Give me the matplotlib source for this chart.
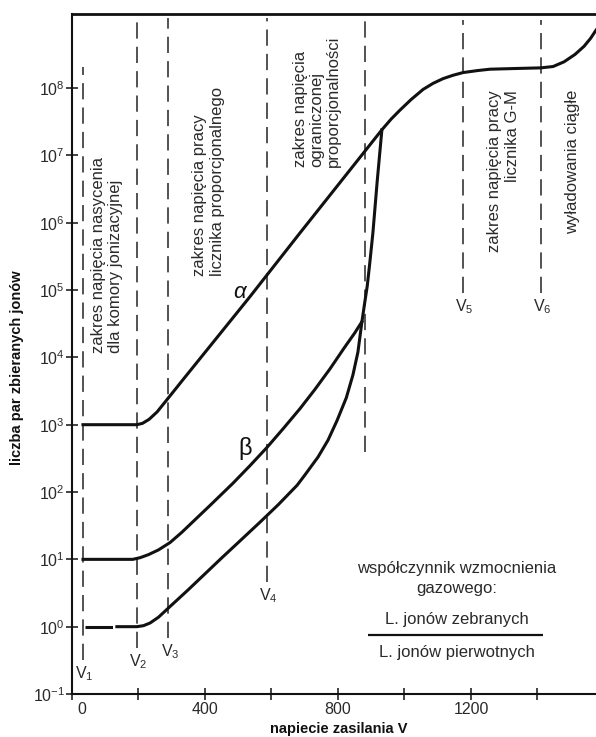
import matplotlib
matplotlib.use('Agg')
import matplotlib.pyplot as plt
from matplotlib.transforms import ScaledTranslation

plt.rcParams['font.family'] = ['Liberation Sans', 'DejaVu Sans']
plt.rcParams['mathtext.fontset'] = 'custom'
plt.rcParams['mathtext.rm'] = 'Liberation Sans'
plt.rcParams['mathtext.it'] = 'Liberation Sans:italic'
plt.rcParams['mathtext.bf'] = 'Liberation Sans:bold'

# napiecie [V] i log10(liczba par jonow)
alpha_v = [33, 195, 212, 232, 256, 300, 334, 535, 686, 932, 960, 986, 1020, 1056,
           1086, 1116, 1146, 1176, 1220, 1257, 1330, 1410, 1447, 1480, 1513, 1540,
           1560, 1576]
alpha_log = [3.00, 3.00, 3.02, 3.08, 3.19, 3.46, 3.67, 4.90, 5.85, 7.38, 7.54, 7.67,
             7.83, 7.98, 8.07, 8.14, 8.19, 8.23, 8.26, 8.28, 8.29, 8.30, 8.32, 8.39,
             8.50, 8.62, 8.74, 8.86]

beta_v = [33, 183, 205, 230, 260, 295, 330, 364, 415, 484, 535, 586, 635, 686, 730,
          776, 820, 850, 872]
beta_log = [1.00, 1.00, 1.025, 1.07, 1.14, 1.25, 1.40, 1.56, 1.80, 2.13, 2.39, 2.66,
            2.94, 3.24, 3.52, 3.83, 4.15, 4.36, 4.53]

# najnizsza krzywa (czesc przerywana + ciagla, z koncowym stromym wzrostem)
low_dash_v = [40, 135]
low_dash_log = [0.0, 0.0]
low_v = [135, 195, 215, 235, 260, 295, 350, 400, 450, 500, 565, 620, 677, 700, 740,
         770, 797, 825, 845, 860, 872, 880, 888, 896, 905, 918, 932]
low_log = [0.00, 0.00, 0.015, 0.055, 0.14, 0.30, 0.55, 0.785, 1.02, 1.25, 1.55, 1.81,
           2.10, 2.25, 2.52, 2.77, 3.06, 3.40, 3.74, 4.08, 4.53, 4.80, 5.06, 5.42,
           5.85, 6.62, 7.38]

# granice zakresow napiecia
boundary_v = [33, 195, 290, 586, 881, 1176, 1410]
boundary_names = ['V$_1$', 'V$_2$', 'V$_3$', 'V$_4$', '', 'V$_5$', 'V$_6$']
boundary_top = [8.31, 9.04, 9.04, 9.04, 9.01, 9.01, 9.01]
boundary_bottom = [-0.50, -0.32, -0.17, 0.66, 2.59, 4.96, 4.96]

x_ticks = [0, 200, 400, 600, 800, 1000, 1200, 1400]
x_tick_labels = ['0', '', '400', '', '800', '', '1200', '']
y_exponents = [-1, 0, 1, 2, 3, 4, 5, 6, 7, 8]

ink = '#111111'
txt = '#2a2a2a'
fs = 12

fig = plt.figure(figsize=(5.96, 7.37), dpi=100)
ax = fig.add_axes([72 / 596, 43 / 737, 524 / 596, 680 / 737])
ax.set_yscale('log')
ax.set_xlim(0, 1576)
ax.set_ylim(10 ** -1, 10 ** 9.10)

# przerywane linie granic
for v, top, bot, name in zip(boundary_v, boundary_top, boundary_bottom, boundary_names):
    ax.plot([v, v], [10 ** bot, 10 ** top], color='#444444', lw=1.3,
            ls=(0, (9, 4.5)), zorder=1)
    if name:
        ax.annotate(name, (v, 10 ** bot), xytext=(1, -3), textcoords='offset points',
                    ha='center', va='top', fontsize=11.5, color=txt)

ax.plot(alpha_v, [10 ** k for k in alpha_log], color=ink, lw=2.2, zorder=3)
ax.plot(beta_v, [10 ** k for k in beta_log], color=ink, lw=2.2, zorder=3)
ax.plot(low_v, [10 ** k for k in low_log], color=ink, lw=2.2, zorder=3)
ax.plot(low_dash_v, [10 ** k for k in low_dash_log], color=ink, lw=2.2,
        ls=(0, (9, 4)), zorder=3)

# opisy zakresow
ax.text(106, 10 ** 4.07, 'zakres napięcia nasycenia\ndla komory jonizacyjnej',
        rotation=90, ha='center', va='bottom', multialignment='left',
        fontsize=fs, color=txt, linespacing=1.2)
ax.text(411, 10 ** 5.21, 'zakres napięcia pracy\nlicznika proporcjonalnego',
        rotation=90, ha='center', va='bottom', multialignment='left',
        fontsize=fs, color=txt, linespacing=1.2)
ax.text(737, 10 ** 6.83, 'zakres napięcia\nograniczonej\nproporcjonalności',
        rotation=90, ha='center', va='bottom', multialignment='left',
        fontsize=fs, color=txt, linespacing=1.1)
ax.text(1299, 10 ** 7.97, 'zakres napięcia pracy\nlicznika G-M',
        rotation=90, ha='center', va='top', multialignment='right',
        fontsize=fs, color=txt, linespacing=1.25)
ax.text(1504, 10 ** 7.97, 'wyładowania ciągłe', rotation=90, ha='center', va='top',
        fontsize=fs, color=txt)

ax.text(505, 10 ** 4.97, 'α', fontsize=16, style='italic', ha='center',
        va='center', color=ink)
ax.text(520, 10 ** 2.65, 'β', fontsize=17, ha='center', va='center', color=ink)

# wspolczynnik wzmocnienia gazowego
ax.text(1158, 10 ** 0.87, 'współczynnik wzmocnienia', ha='center', va='center',
        fontsize=fs, color=txt)
ax.text(1158, 10 ** 0.57, 'gazowego:', ha='center', va='center', fontsize=fs, color=txt)
ax.text(1158, 10 ** 0.11, 'L. jonów zebranych', ha='center', va='center',
        fontsize=fs, color=txt)
ax.hlines(10 ** -0.124, 890, 1417, color=ink, lw=1.6)
ax.text(1158, 10 ** -0.38, 'L. jonów pierwotnych', ha='center', va='center',
        fontsize=fs, color=txt)

# osie
ax.spines['right'].set_visible(False)
ax.spines['top'].set_linewidth(2.0)
ax.spines['left'].set_linewidth(1.5)
ax.spines['bottom'].set_linewidth(1.5)
for s in ax.spines.values():
    s.set_color(ink)

ax.set_xticks(x_ticks)
ax.set_xticklabels(x_tick_labels)
ax.set_yticks([10.0 ** k for k in y_exponents])
ax.minorticks_off()
ax.tick_params(direction='inout', length=8, width=1.1, labelsize=11.5,
               labelcolor=txt, color=ink)
ax.tick_params(axis='x', pad=2)
ax.tick_params(axis='y', pad=1)
ax.xaxis.get_major_ticks()[0].label1.set_transform(
    ax.xaxis.get_major_ticks()[0].label1.get_transform()
    + ScaledTranslation(10 / 100, 0, fig.dpi_scale_trans))

ax.set_xlabel('napiecie zasilania V', fontsize=10.5, fontweight='bold', color=ink)
ax.xaxis.set_label_coords(0.51, -0.041)
ax.set_ylabel('liczba par zbieranych jonów', fontsize=10.5, fontweight='bold', color=ink)
ax.yaxis.set_label_coords(-0.092, 0.48)

fig.savefig('out.png', dpi=100, facecolor='white')
